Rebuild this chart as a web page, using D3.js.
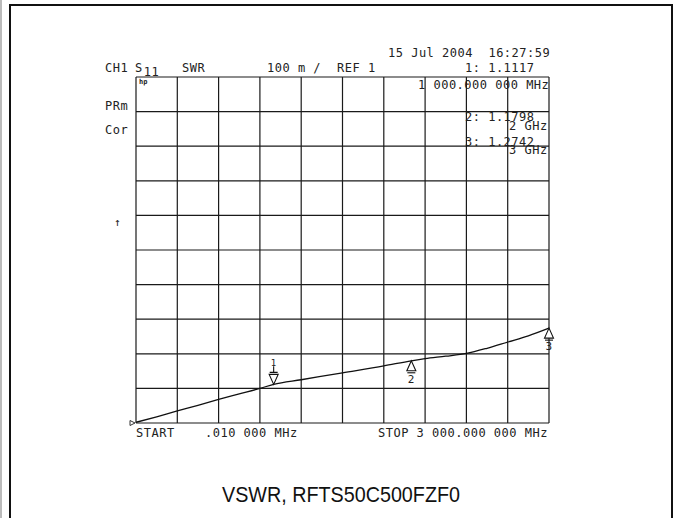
<!DOCTYPE html>
<html>
<head>
<meta charset="utf-8">
<script src="https://cdn.jsdelivr.net/npm/d3@7"></script>
<style>
  body { margin: 0; background: #fff; }
  svg { display: block; }
  .hp { font-family: "DejaVu Sans Mono", "Liberation Mono", monospace; font-size: 12px; fill: #222; letter-spacing: 0.5px; white-space: pre; }
</style>
</head>
<body>
<div id="graph"></div>
<script>
// trace: frequency (MHz) vs SWR
var freqs = [0.01, 150, 300, 450, 600, 750, 900, 1000, 1200, 1500, 1800, 2000, 2100, 2250, 2400, 2550, 2700, 2850, 3000]
var swr   = [1.002, 1.018, 1.035, 1.051, 1.068, 1.084, 1.100, 1.1117, 1.125, 1.145, 1.165, 1.1798, 1.186, 1.193, 1.201, 1.216, 1.234, 1.252, 1.2742]

var markerFreqs = [1000, 2000, 3000]
var markerVals  = [1.1117, 1.1798, 1.2742]
var markerIds   = ['1', '2', '3']

var startLabel = 'START'
var startFreq = '.010 000 MHz'
var stopLabel = 'STOP 3 000.000 000 MHz'

var W = 683, H = 518

var svg = d3.select('#graph').append('svg').attr('width', W).attr('height', H)

// outer frame (open at the bottom)
svg.append('path')
  .attr('d', 'M10,' + (H + 5) + 'V5H672V' + (H + 5))
  .attr('fill', 'none').attr('stroke', '#111').attr('stroke-width', 2)
svg.append('line').attr('x1', 1).attr('x2', 1).attr('y1', 0).attr('y2', H)
  .attr('stroke', '#bbb').attr('stroke-width', 2)

var x = d3.scaleLinear().domain([0.01, 3000]).range([136, 549])
var y = d3.scaleLinear().domain([1, 2]).range([423, 77])

var g = svg.append('g')

// 10 x 10 graticule
var xDiv = d3.range(11).map(i => x.invert(x.range()[0] + i * (x.range()[1] - x.range()[0]) / 10))
var yDiv = d3.range(11).map(i => 1 + i * 0.1)

g.selectAll('.vx').data(xDiv).join('line')
  .attr('x1', d => x(d)).attr('x2', d => x(d))
  .attr('y1', y(2)).attr('y2', y(1))
  .attr('stroke', '#1a1a1a').attr('stroke-width', 1.2)

g.selectAll('.hy').data(yDiv).join('line')
  .attr('x1', x(0.01)).attr('x2', x(3000))
  .attr('y1', d => y(d)).attr('y2', d => y(d))
  .attr('stroke', '#1a1a1a').attr('stroke-width', 1.2)

// trace
var line = d3.line().x(d => x(d[0])).y(d => y(d[1])).curve(d3.curveMonotoneX)
g.append('path')
  .datum(freqs.map((f, i) => [f, swr[i]]))
  .attr('d', line)
  .attr('fill', 'none').attr('stroke', '#111').attr('stroke-width', 1.3)

// reference-level tick at left
g.append('path')
  .attr('d', 'M' + (x(0.01) - 6) + ',' + (y(1) - 2.5) + 'l5,2.5l-5,2.5z')
  .attr('fill', 'none').attr('stroke', '#333').attr('stroke-width', 1)

// markers
markerFreqs.forEach((f, i) => {
  var mx = x(f), my = y(markerVals[i])
  var mg = g.append('g').attr('transform', 'translate(' + mx + ',' + my + ')')
  if (i === 0) {
    mg.append('path').attr('d', 'M0,0L-4.5,-10H4.5Z')
      .attr('fill', '#fff').attr('stroke', '#111').attr('stroke-width', 1.1)
    mg.append('path').attr('d', 'M-4,-12H4M0,-12V-18')
      .attr('stroke', '#111').attr('stroke-width', 1.1)
    mg.append('text').attr('class', 'hp').attr('x', 0).attr('y', -18)
      .attr('text-anchor', 'middle').style('font-size', '9px').text(markerIds[i])
  } else {
    mg.append('path').attr('d', 'M0,0L-4.5,10H4.5Z')
      .attr('fill', '#fff').attr('stroke', '#111').attr('stroke-width', 1.1)
    mg.append('path').attr('d', 'M-4,12H4')
      .attr('stroke', '#111').attr('stroke-width', 1.1)
    mg.append('text').attr('class', 'hp').attr('x', 0).attr('y', 22)
      .attr('text-anchor', 'middle').style('font-size', '11px').text(markerIds[i])
  }
})

// annotation text
function txt(s, tx, ty, size) {
  var t = svg.append('text').attr('class', 'hp').attr('xml:space', 'preserve')
    .attr('x', tx).attr('y', ty).text(s)
  if (size) t.style('font-size', size + 'px')
  return t
}

txt('15 Jul 2004  16:27:59', 388, 57)
txt('CH1', 105, 72)
var s11 = txt('S', 135, 72)
s11.append('tspan').attr('dy', 4).attr('dx', 1).text('11')
txt('SWR', 182, 72)
txt('100 m /', 267, 72)
txt('REF 1', 337, 72)
txt('1: 1.1117', 465, 72)
txt('1 000.000 000 MHz', 418, 89)
txt('2: 1.1798', 465, 121)
txt('2 GHz', 509, 130)
txt('3: 1.2742', 465, 146)
txt('3 GHz', 509, 154)
txt('hp', 139, 84, 7).style('font-weight', 'bold').style('letter-spacing', '0px')
txt('PRm', 105, 110)
txt('Cor', 105, 134)
txt('↑', 114, 226, 11)
txt(startLabel, 136, 437)
txt(startFreq, 205, 437)
txt(stopLabel, 378, 437)

// caption
svg.append('text')
  .attr('x', 341).attr('y', 502)
  .attr('text-anchor', 'middle')
  .attr('textLength', 238).attr('lengthAdjust', 'spacingAndGlyphs')
  .style('font-family', '"Liberation Sans", Arial, sans-serif')
  .style('font-size', '22px').style('fill', '#111')
  .text('VSWR, RFTS50C500FZF0')
</script>
</body>
</html>
